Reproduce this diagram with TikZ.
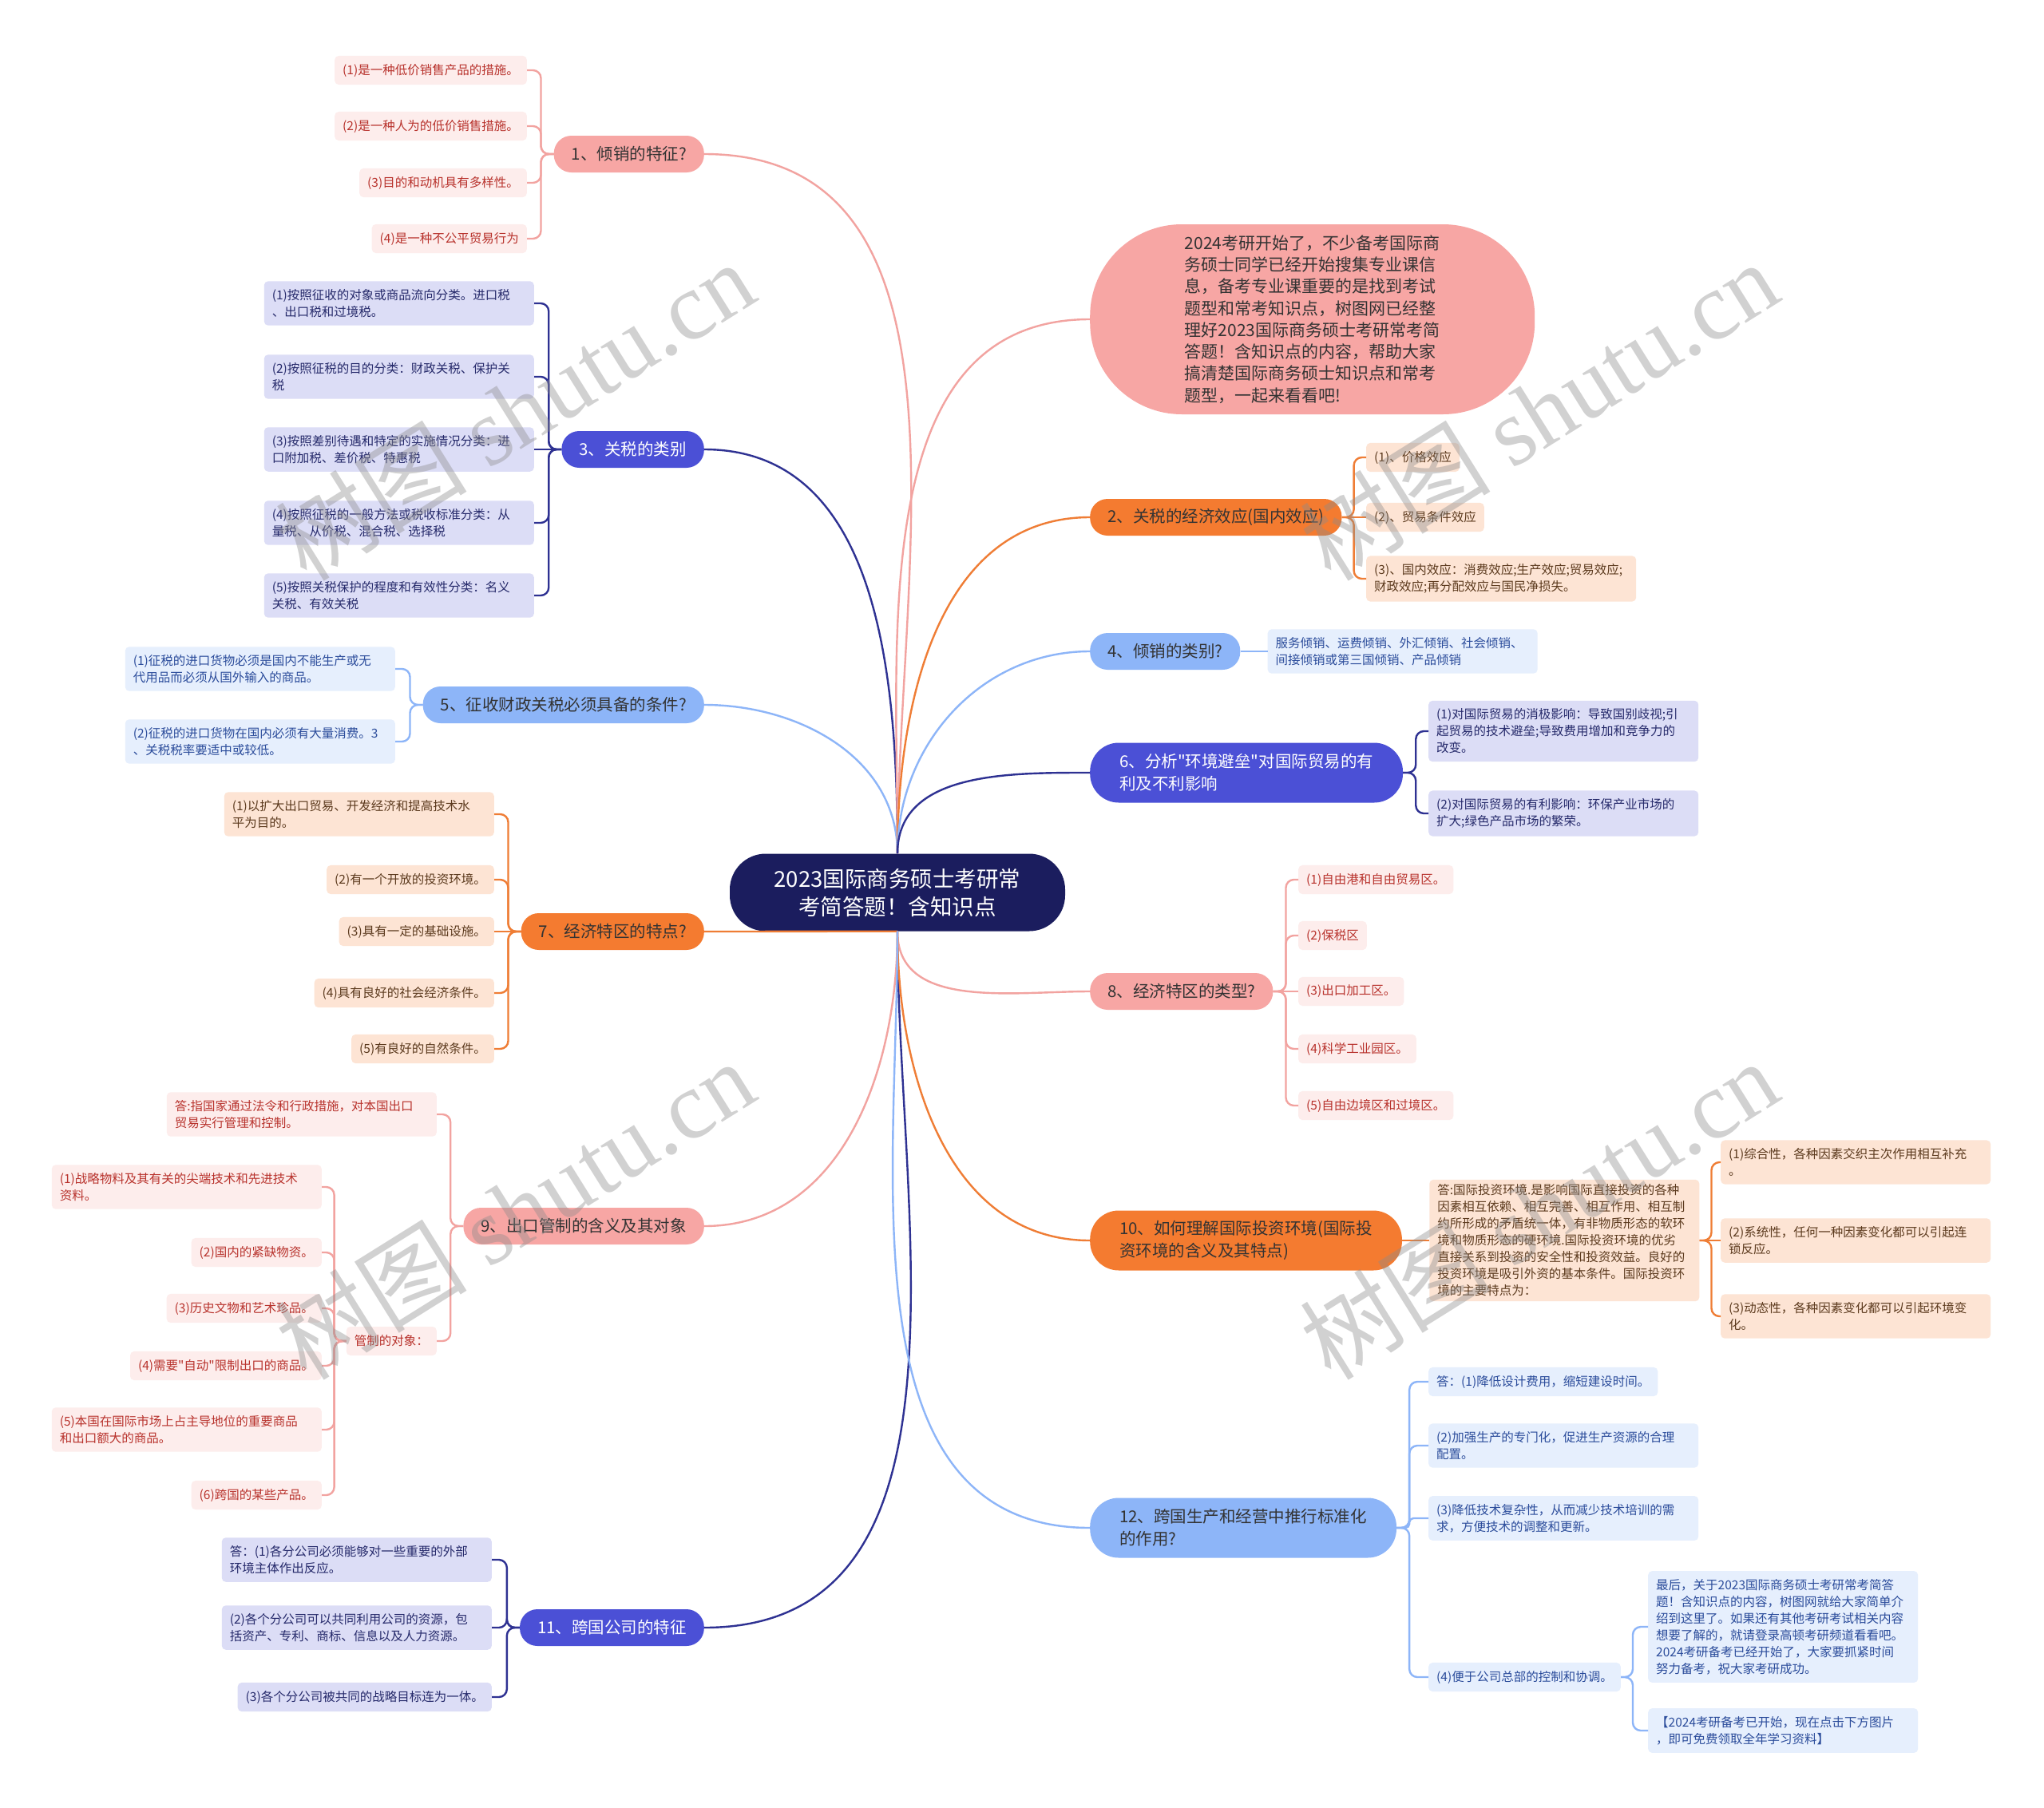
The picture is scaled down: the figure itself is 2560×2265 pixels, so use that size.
\documentclass[tikz,border=0pt]{standalone}
\usepackage{fontspec}
\setmainfont{Noto Sans CJK SC}[Ligatures=TeXOff]
\newfontfamily\wmfont{Liberation Serif}
\usetikzlibrary{positioning}

\definecolor{rootbg}{HTML}{1B1D5E}
\definecolor{salmon}{HTML}{F7A6A4}
\definecolor{tangerine}{HTML}{F47B30}
\definecolor{indigo}{HTML}{4B50D6}
\definecolor{sky}{HTML}{8DB5F8}
\definecolor{pinkbg}{HTML}{FDEDEC}
\definecolor{pinktx}{HTML}{B8322C}
\definecolor{peachbg}{HTML}{FDE4D4}
\definecolor{peachtx}{HTML}{5C3A1E}
\definecolor{lavbg}{HTML}{DCDDF6}
\definecolor{lavtx}{HTML}{262A6B}
\definecolor{skybg}{HTML}{E6EFFD}
\definecolor{skytx}{HTML}{2B4C9B}
\definecolor{darktx}{HTML}{333333}
\definecolor{csal}{HTML}{F2A3A0}
\definecolor{cora}{HTML}{EF7D35}
\definecolor{cnavy}{HTML}{2E3192}
\definecolor{csky}{HTML}{8DB5F8}

\begin{document}
\begin{tikzpicture}[x=1pt, y=-1pt,
		root/.style={fill=rootbg, text=white, rounded corners=45pt, align=center,
				minimum width=420pt, minimum height=97pt, font=\fontsize{27.5}{35}\selectfont},
		topic/.style={rounded corners=22pt, inner xsep=22pt, inner ysep=8pt, minimum height=46pt,
				align=left, font=\fontsize{20.5}{28}\selectfont},
		bigtopic/.style={topic, rounded corners=36pt, inner xsep=37pt, minimum height=75pt},
		tsal/.style={fill=salmon, text=darktx},
		tora/.style={fill=tangerine, text=darktx},
		tind/.style={fill=indigo, text=white},
		tsky/.style={fill=sky, text=darktx},
		leaf/.style={rounded corners=5pt, inner xsep=10pt, inner ysep=10pt, minimum height=36pt,
				align=left, font=\fontsize{15.5}{21}\selectfont},
		wide/.style={text width=318pt},
		lpink/.style={leaf, fill=pinkbg, text=pinktx},
		lpeach/.style={leaf, fill=peachbg, text=peachtx},
		llav/.style={leaf, fill=lavbg, text=lavtx},
		lsky/.style={leaf, fill=skybg, text=skytx},
		ln/.style={line width=2.4pt},
		brk/.style={line width=2.4pt, rounded corners=10pt},
		wmark/.style={rotate=32, text=black!45, text opacity=0.4, font=\fontsize{120}{120}\selectfont},
	]
	\fill[white] (0,0) rectangle (2560,2265);
	\useasboundingbox (0,0) rectangle (2560,2265);

	% root
	\node[root] (ctr) at (1124,1118) {2023国际商务硕士考研常\\考简答题！含知识点};

	% topics, left side
	\node[topic, tsal, anchor=east] (b1) at (882,193) {1、倾销的特征?};
	\node[topic, tind, anchor=east] (b3) at (882,563) {3、关税的类别};
	\node[topic, tsky, anchor=east] (b5) at (882,883) {5、征收财政关税必须具备的条件?};
	\node[topic, tora, anchor=east] (b7) at (882,1167) {7、经济特区的特点?};
	\node[topic, tsal, anchor=east] (b9) at (882,1536) {9、出口管制的含义及其对象};
	\node[topic, tind, anchor=east] (b11) at (882,2039) {11、跨国公司的特征};

	% topics, right side
	\node[fill=salmon, text=darktx, rounded corners=115pt, minimum width=557pt, minimum height=238pt,
		align=left, font=\fontsize{21}{27.3}\selectfont, anchor=west] (intro) at (1365,400)
		{2024考研开始了，不少备考国际商\\务硕士同学已经开始搜集专业课信\\息，备考专业课重要的是找到考试\\题型和常考知识点，树图网已经整\\理好2023国际商务硕士考研常考简\\答题！含知识点的内容，帮助大家\\搞清楚国际商务硕士知识点和常考\\题型，一起来看看吧!};
	\node[topic, tora, anchor=west] (b2) at (1365,648) {2、关税的经济效应(国内效应)};
	\node[topic, tsky, anchor=west] (b4) at (1365,816) {4、倾销的类别?};
	\node[bigtopic, tind, anchor=west] (b6) at (1365,968) {6、分析"环境避垒"对国际贸易的有\\利及不利影响};
	\node[topic, tsal, anchor=west] (b8) at (1365,1242) {8、经济特区的类型?};
	\node[bigtopic, tora, anchor=west] (b10) at (1365,1554) {10、如何理解国际投资环境(国际投\\资环境的含义及其特点)};
	\node[bigtopic, tsky, anchor=west] (b12) at (1365,1914) {12、跨国生产和经营中推行标准化\\的作用?};

	% 1
	\node[lpink, anchor=east] (b1a) at (660,88) {(1)是一种低价销售产品的措施。};
	\node[lpink, anchor=east] (b1b) at (660,158) {(2)是一种人为的低价销售措施。};
	\node[lpink, anchor=east] (b1c) at (660,229) {(3)目的和动机具有多样性。};
	\node[lpink, anchor=east] (b1d) at (660,299) {(4)是一种不公平贸易行为};

	% 2
	\node[lpeach, anchor=west] (b2a) at (1711,573) {(1)、价格效应};
	\node[lpeach, anchor=west] (b2b) at (1711,648) {(2)、贸易条件效应};
	\node[lpeach, wide, anchor=west] (b2c) at (1711,725) {(3)、国内效应：消费效应;生产效应;贸易效应;\\财政效应;再分配效应与国民净损失。};

	% 3
	\node[llav, wide, anchor=east] (b3a) at (669,380) {(1)按照征收的对象或商品流向分类。进口税\\、出口税和过境税。};
	\node[llav, wide, anchor=east] (b3b) at (669,472) {(2)按照征税的目的分类：财政关税、保护关\\税};
	\node[llav, wide, anchor=east] (b3c) at (669,563) {(3)按照差别待遇和特定的实施情况分类：进\\口附加税、差价税、特惠税};
	\node[llav, wide, anchor=east] (b3d) at (669,655) {(4)按照征税的一般方法或税收标准分类：从\\量税、从价税、混合税、选择税};
	\node[llav, wide, anchor=east] (b3e) at (669,746) {(5)按照关税保护的程度和有效性分类：名义\\关税、有效关税};

	% 4
	\node[lsky, wide, right=34pt of b4] (b4a) {服务倾销、运费倾销、外汇倾销、社会倾销、\\间接倾销或第三国倾销、产品倾销};

	% 5
	\node[lsky, wide, anchor=east] (b5a) at (495,838) {(1)征税的进口货物必须是国内不能生产或无\\代用品而必须从国外输入的商品。};
	\node[lsky, wide, anchor=east] (b5b) at (495,929) {(2)征税的进口货物在国内必须有大量消费。3\\、关税税率要适中或较低。};

	% 6
	\node[llav, wide, anchor=west] (b6a) at (1789,916) {(1)对国际贸易的消极影响：导致国别歧视;引\\起贸易的技术避垒;导致费用增加和竞争力的\\改变。};
	\node[llav, wide, anchor=west] (b6b) at (1789,1019) {(2)对国际贸易的有利影响：环保产业市场的\\扩大;绿色产品市场的繁荣。};

	% 7
	\node[lpeach, wide, anchor=east] (b7a) at (619,1020) {(1)以扩大出口贸易、开发经济和提高技术水\\平为目的。};
	\node[lpeach, anchor=east] (b7b) at (619,1102) {(2)有一个开放的投资环境。};
	\node[lpeach, anchor=east] (b7c) at (619,1167) {(3)具有一定的基础设施。};
	\node[lpeach, anchor=east] (b7d) at (619,1244) {(4)具有良好的社会经济条件。};
	\node[lpeach, anchor=east] (b7e) at (619,1314) {(5)有良好的自然条件。};

	% 8
	\node[lpink, anchor=west] (b8a) at (1626,1102) {(1)自由港和自由贸易区。};
	\node[lpink, anchor=west] (b8b) at (1626,1172) {(2)保税区};
	\node[lpink, anchor=west] (b8c) at (1626,1242) {(3)出口加工区。};
	\node[lpink, anchor=west] (b8d) at (1626,1314) {(4)科学工业园区。};
	\node[lpink, anchor=west] (b8e) at (1626,1385) {(5)自由边境区和过境区。};

	% 9
	\node[lpink, wide, anchor=east] (b9a) at (547,1396) {答:指国家通过法令和行政措施，对本国出口\\贸易实行管理和控制。};
	\node[lpink, anchor=east] (b9b) at (547,1680) {管制的对象：};
	\node[lpink, wide, anchor=east] (b9b1) at (403,1487) {(1)战略物料及其有关的尖端技术和先进技术\\资料。};
	\node[lpink, anchor=east] (b9b2) at (403,1569) {(2)国内的紧缺物资。};
	\node[lpink, anchor=east] (b9b3) at (403,1639) {(3)历史文物和艺术珍品。};
	\node[lpink, anchor=east] (b9b4) at (403,1711) {(4)需要"自动"限制出口的商品。};
	\node[lpink, wide, anchor=east] (b9b5) at (403,1791) {(5)本国在国际市场上占主导地位的重要商品\\和出口额大的商品。};
	\node[lpink, anchor=east] (b9b6) at (403,1873) {(6)跨国的某些产品。};

	% 10
	\node[lpeach, wide, inner ysep=6pt, right=34pt of b10] (b10a) {答:国际投资环境.是影响国际直接投资的各种\\因素相互依赖、相互完善、相互作用、相互制\\约所形成的矛盾统一体，有非物质形态的软环\\境和物质形态的硬环境.国际投资环境的优劣\\直接关系到投资的安全性和投资效益。良好的\\投资环境是吸引外资的基本条件。国际投资环\\境的主要特点为：};
	\node[lpeach, wide, anchor=west] (b10a1) at (2155,1456) {(1)综合性，各种因素交织主次作用相互补充\\。};
	\node[lpeach, wide, anchor=west] (b10a2) at (2155,1554) {(2)系统性，任何一种因素变化都可以引起连\\锁反应。};
	\node[lpeach, wide, anchor=west] (b10a3) at (2155,1649) {(3)动态性，各种因素变化都可以引起环境变\\化。};

	% 11
	\node[llav, wide, anchor=east] (b11a) at (616,1954) {答：(1)各分公司必须能够对一些重要的外部\\环境主体作出反应。};
	\node[llav, wide, anchor=east] (b11b) at (616,2039) {(2)各个分公司可以共同利用公司的资源，包\\括资产、专利、商标、信息以及人力资源。};
	\node[llav, anchor=east] (b11c) at (616,2126) {(3)各个分公司被共同的战略目标连为一体。};

	% 12
	\node[lsky, anchor=west] (b12a) at (1789,1731) {答：(1)降低设计费用，缩短建设时间。};
	\node[lsky, wide, anchor=west] (b12b) at (1789,1811) {(2)加强生产的专门化，促进生产资源的合理\\配置。};
	\node[lsky, wide, anchor=west] (b12c) at (1789,1902) {(3)降低技术复杂性，从而减少技术培训的需\\求，方便技术的调整和更新。};
	\node[lsky, anchor=west] (b12d) at (1789,2101) {(4)便于公司总部的控制和协调。};
	\node[lsky, wide, anchor=west] (b12d1) at (2064,2038) {最后，关于2023国际商务硕士考研常考简答\\题！含知识点的内容，树图网就给大家简单介\\绍到这里了。如果还有其他考研考试相关内容\\想要了解的，就请登录高顿考研频道看看吧。\\2024考研备考已经开始了，大家要抓紧时间\\努力备考，祝大家考研成功。};
	\node[lsky, wide, anchor=west] (b12d2) at (2064,2168) {【2024考研备考已开始，现在点击下方图片\\，即可免费领取全年学习资料】};

	% root -> topics
	\draw[ln, csal]  (ctr.north) to[out=90, in=0] (b1.east);
	\draw[ln, cnavy] (ctr.north) to[out=90, in=0] (b3.east);
	\draw[ln, csky]  (ctr.north) to[out=90, in=0] (b5.east);
	\draw[ln, cora]  (ctr.south) to[out=180, in=0] (b7.east);
	\draw[ln, csal]  (ctr.south) to[out=-90, in=0] (b9.east);
	\draw[ln, cnavy] (ctr.south) to[out=-90, in=0] (b11.east);
	\draw[ln, csal]  (ctr.north) to[out=90, in=180] (intro.west);
	\draw[ln, cora]  (ctr.north) to[out=90, in=180] (b2.west);
	\draw[ln, csky]  (ctr.north) to[out=90, in=180] (b4.west);
	\draw[ln, cnavy] (ctr.north) to[out=90, in=180] (b6.west);
	\draw[ln, csal]  (ctr.south) to[out=-90, in=180] (b8.west);
	\draw[ln, cora]  (ctr.south) to[out=-90, in=180] (b10.west);
	\draw[ln, csky]  (ctr.south) to[out=-90, in=180] (b12.west);

	% topics -> leaves
	\draw[brk, csal] (b1.west) -- ++(-16,0) |- (b1a.east);
	\draw[brk, csal] (b1.west) -- ++(-16,0) |- (b1b.east);
	\draw[brk, csal] (b1.west) -- ++(-16,0) |- (b1c.east);
	\draw[brk, csal] (b1.west) -- ++(-16,0) |- (b1d.east);

	\draw[brk, cora] (b2.east) -- ++(15,0) |- (b2a.west);
	\draw[brk, cora] (b2.east) -- (b2b.west);
	\draw[brk, cora] (b2.east) -- ++(15,0) |- (b2c.west);

	\draw[brk, cnavy] (b3.west) -- ++(-16,0) |- (b3a.east);
	\draw[brk, cnavy] (b3.west) -- ++(-16,0) |- (b3b.east);
	\draw[brk, cnavy] (b3.west) -- (b3c.east);
	\draw[brk, cnavy] (b3.west) -- ++(-16,0) |- (b3d.east);
	\draw[brk, cnavy] (b3.west) -- ++(-16,0) |- (b3e.east);

	\draw[ln, csky] (b4) -- (b4a);

	\draw[brk, csky] (b5.west) -- ++(-16,0) |- (b5a.east);
	\draw[brk, csky] (b5.west) -- ++(-16,0) |- (b5b.east);

	\draw[brk, cnavy] (b6.east) -- ++(16,0) |- (b6a.west);
	\draw[brk, cnavy] (b6.east) -- ++(16,0) |- (b6b.west);

	\draw[brk, cora] (b7.west) -- ++(-16,0) |- (b7a.east);
	\draw[brk, cora] (b7.west) -- ++(-16,0) |- (b7b.east);
	\draw[brk, cora] (b7.west) -- (b7c.east);
	\draw[brk, cora] (b7.west) -- ++(-16,0) |- (b7d.east);
	\draw[brk, cora] (b7.west) -- ++(-16,0) |- (b7e.east);

	\draw[brk, csal] (b8.east) -- ++(16,0) |- (b8a.west);
	\draw[brk, csal] (b8.east) -- ++(16,0) |- (b8b.west);
	\draw[brk, csal] (b8.east) -- (b8c.west);
	\draw[brk, csal] (b8.east) -- ++(16,0) |- (b8d.west);
	\draw[brk, csal] (b8.east) -- ++(16,0) |- (b8e.west);

	\draw[brk, csal] (b9.west) -- ++(-16,0) |- (b9a.east);
	\draw[brk, csal] (b9.west) -- ++(-16,0) |- (b9b.east);
	\draw[brk, csal] (b9b.west) -- ++(-15,0) |- (b9b1.east);
	\draw[brk, csal] (b9b.west) -- ++(-15,0) |- (b9b2.east);
	\draw[brk, csal] (b9b.west) -- ++(-15,0) |- (b9b3.east);
	\draw[brk, csal] (b9b.west) -- ++(-15,0) |- (b9b4.east);
	\draw[brk, csal] (b9b.west) -- ++(-15,0) |- (b9b5.east);
	\draw[brk, csal] (b9b.west) -- ++(-15,0) |- (b9b6.east);

	\draw[ln, cora] (b10) -- (b10a);
	\draw[brk, cora] (b10a.east) -- ++(15,0) |- (b10a1.west);
	\draw[brk, cora] (b10a.east) -- (b10a2.west);
	\draw[brk, cora] (b10a.east) -- ++(15,0) |- (b10a3.west);

	\draw[brk, cnavy] (b11.west) -- ++(-16,0) |- (b11a.east);
	\draw[brk, cnavy] (b11.west) -- ++(-16,0) |- (b11b.east);
	\draw[brk, cnavy] (b11.west) -- ++(-16,0) |- (b11c.east);

	\draw[brk, csky] (b12.east) -- ++(16,0) |- (b12a.west);
	\draw[brk, csky] (b12.east) -- ++(16,0) |- (b12b.west);
	\draw[brk, csky, rounded corners=5pt] (b12.east) -- ++(16,0) |- (b12c.west);
	\draw[brk, csky] (b12.east) -- ++(16,0) |- (b12d.west);
	\draw[brk, csky] (b12d.east) -- ++(15,0) |- (b12d1.west);
	\draw[brk, csky] (b12d.east) -- ++(15,0) |- (b12d2.west);

	% watermarks
	\node[wmark] (wm1) at (645,514) {树图 {\wmfont shutu.cn}};
	\node[wmark] (wm2) at (1927,514) {树图 {\wmfont shutu.cn}};
	\node[wmark] (wm3) at (645,1515) {树图 {\wmfont shutu.cn}};
	\node[wmark] (wm4) at (1927,1515) {树图 {\wmfont shutu.cn}};
\end{tikzpicture}
\end{document}
